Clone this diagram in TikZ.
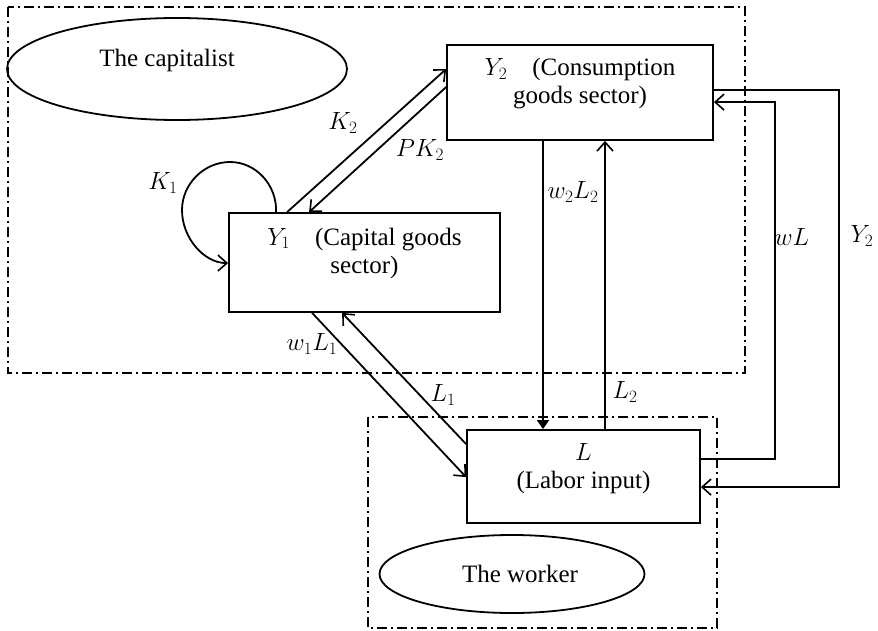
\documentclass[tikz,border=0pt]{standalone}
\usepackage{fontspec}
\setmainfont{Liberation Serif}
\usetikzlibrary{arrows.meta, shapes.geometric}

\begin{document}
\begin{tikzpicture}[x=1pt, y=-1pt,
    font=\fontsize{25}{28}\selectfont,
    region/.style={line width=1.6pt, dash pattern=on 10pt off 4pt on 2pt off 4pt},
    sector/.style={draw, line width=1.8pt, inner sep=0pt},
    blob/.style={draw, ellipse, line width=1.8pt, inner sep=0pt},
    flow/.style={line width=1.8pt, -{Straight Barb[length=9pt, width=16pt, line width=1.6pt]}},
    lbl/.style={inner sep=0pt}
]
    % --- bounding box ---
    \useasboundingbox (0,0) rectangle (878,631);

    % --- the two groups ---
    \draw[region] (8,7) rectangle (745,373);
    \draw[region] (368,417) rectangle (717,628);

    % --- agents ---
    \node[blob, minimum width=340pt, minimum height=102pt,
          label={[xshift=-10pt, yshift=9pt]center:The capitalist}] (capitalist) at (177,69) {};
    \node[blob, minimum width=265pt, minimum height=78pt] (worker) at (512,574) {\hspace{16pt}The worker};

    % --- sectors ---
    \node[sector, minimum width=266pt, minimum height=95pt,
          label={[align=center, yshift=8.5pt]center:{$Y_2$\quad(Consumption\\goods sector)}}] (y2) at (580,92.5) {};
    \node[sector, minimum width=271pt, minimum height=99pt,
          label={[align=center, yshift=9.5pt]center:{$Y_1$\quad(Capital goods\\sector)}}] (y1) at (364.5,262.5) {};
    \node[sector, minimum width=233pt, minimum height=93pt,
          label={[align=center, yshift=7.5pt]center:{$L$\\(Labor input)}}] (lab) at (583.5,476.5) {};

    % --- capital flows ---
    \draw[flow] ([xshift=59pt]y1.north west) -- ([yshift=-25pt]y2.north west)
        node[lbl] at (343,123) {$K_2$};
    \draw[flow] ([yshift=-43pt]y2.north west) -- ([xshift=81pt]y1.north west)
        node[lbl] at (420,150) {$PK_2$};
    \draw[flow] ([xshift=48pt]y1.north west)
        .. controls (277,185) and (256,162) .. (230,162)
        .. controls (204,162) and (182,184) .. (182,210)
        .. controls (182,238) and (204,263) .. ([yshift=-51pt]y1.north west)
        node[lbl] at (163,183) {$K_1$};

    % --- labor and wages ---
    \draw[flow] ([xshift=84pt]y1.south west) -- ([yshift=-48pt]lab.north west)
        node[lbl] at (312,344) {$w_1L_1$};
    \draw[flow] ([yshift=-15pt]lab.north west) -- ([xshift=114pt]y1.south west)
        node[lbl] at (443,395) {$L_1$};
    \draw[line width=1.8pt, -{Triangle[length=9pt, width=12pt]}]
        ([xshift=-37pt]y2.south) -- ([xshift=-40.5pt]lab.north)
        node[lbl] at (573,192) {$w_2L_2$};
    \draw[flow] ([xshift=21.5pt]lab.north) -- ([xshift=25pt]y2.south)
        node[lbl] at (625,392) {$L_2$};

    % --- outer loops ---
    \draw[flow] ([yshift=-30pt]lab.north east) -- ++(74pt,0) |- ([yshift=-58pt]y2.north east)
        node[lbl] at (792,237) {$wL$};
    \draw[flow] ([yshift=-46pt]y2.north east) -- ++(125pt,0) |- ([yshift=-58pt]lab.north east)
        node[lbl] at (862,236) {$Y_2$};
\end{tikzpicture}
\end{document}
